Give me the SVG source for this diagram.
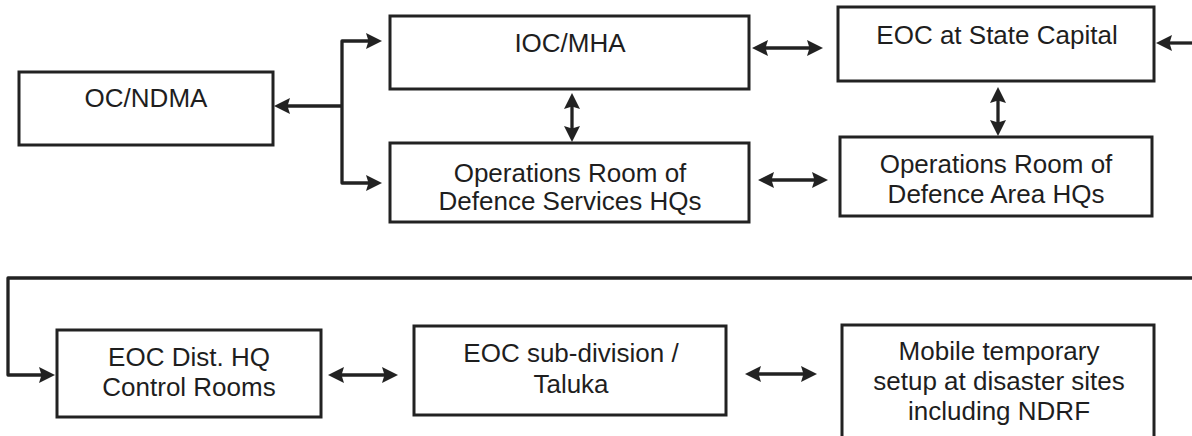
<svg xmlns="http://www.w3.org/2000/svg" width="1192" height="436" viewBox="0 0 1192 436">
<style>
.box{fill:#fff;stroke:#222;stroke-width:3}
.lbl{font-family:"Liberation Sans",Arial,sans-serif;font-size:26px;fill:#1e1e1e;text-anchor:middle}
.con{fill:none;stroke:#222;stroke-width:3.3;stroke-linejoin:round}
.arr{marker-end:url(#ah)}
.dbl{marker-start:url(#ah);marker-end:url(#ah)}
</style>
<defs>
<marker id="ah" markerUnits="userSpaceOnUse" markerWidth="17" markerHeight="17" refX="12" refY="8" orient="auto-start-reverse">
<path d="M0,0 L16,8 L0,16 L2.5,8 z" fill="#222"/>
</marker>
</defs>
<rect width="1192" height="436" fill="#fff"/>
<g id="connectors">
<path class="con" d="M342,106 H278" marker-end="url(#ah)"/>
<path class="con dbl" d="M378,41 H342 V183 H378"/>
<path class="con dbl" d="M756,48 H819"/>
<path class="con dbl" d="M572,97 V138"/>
<path class="con dbl" d="M762,180 H824"/>
<path class="con dbl" d="M998,91 V132"/>
<path class="con arr" d="M1192,43 H1160"/>
<path class="con arr" d="M1192,278 H8 V375 H51"/>
<path class="con dbl" d="M332,375 H394"/>
<path class="con dbl" d="M749,374 H813"/>
</g>
<g id="oc-ndma">
<rect class="box" x="19" y="72" width="254" height="73"/>
<text class="lbl" x="146" y="107">OC/NDMA</text>
</g>
<g id="ioc-mha">
<rect class="box" x="390" y="16" width="359" height="73"/>
<text class="lbl" x="570" y="52">IOC/MHA</text>
</g>
<g id="eoc-state">
<rect class="box" x="838" y="7" width="316" height="74"/>
<text class="lbl" x="997" y="44">EOC at State Capital</text>
</g>
<g id="ops-services">
<rect class="box" x="390" y="143" width="359" height="79"/>
<text class="lbl" x="570" y="182">Operations Room of</text>
<text class="lbl" x="570" y="210">Defence Services HQs</text>
</g>
<g id="ops-area">
<rect class="box" x="840" y="137" width="312" height="79"/>
<text class="lbl" x="996" y="173">Operations Room of</text>
<text class="lbl" x="996" y="203">Defence Area HQs</text>
</g>
<g id="eoc-dist">
<rect class="box" x="57" y="330" width="264" height="87"/>
<text class="lbl" x="189" y="366">EOC Dist. HQ</text>
<text class="lbl" x="189" y="396">Control Rooms</text>
</g>
<g id="eoc-sub">
<rect class="box" x="414" y="326" width="312" height="89"/>
<text class="lbl" x="571" y="362">EOC sub-division /</text>
<text class="lbl" x="571" y="393">Taluka</text>
</g>
<g id="mobile">
<rect class="box" x="842" y="325" width="312" height="130"/>
<text class="lbl" x="999" y="360">Mobile temporary</text>
<text class="lbl" x="999" y="390">setup at disaster sites</text>
<text class="lbl" x="999" y="420">including NDRF</text>
</g>
</svg>
